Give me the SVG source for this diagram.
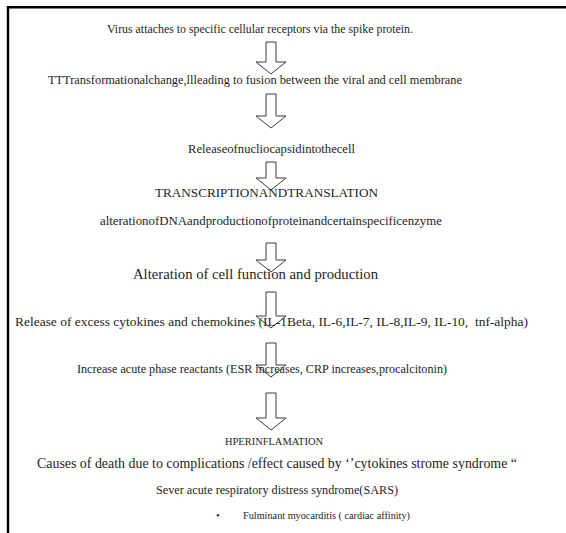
<svg xmlns="http://www.w3.org/2000/svg" width="566" height="533" viewBox="0 0 566 533">
<style>
.t{font-family:"Liberation Serif","Times New Roman",serif;font-size:12px;fill:#1e1e1e}
.a{fill:#fff;stroke:#3a3a3a;stroke-width:1;stroke-linejoin:miter}
</style>
<rect width="566" height="533" fill="#fff"/>
<path d="M8 533V7.2H566" fill="none" stroke="#000" stroke-width="2.4"/>
<g id="connectors">
<path class="a" d="M266 42H276V62H286L271 74L256 62H266Z"/>
<path class="a" d="M266 94H276V116H286L271 128L256 116H266Z"/>
<path class="a" d="M266 162H276V178H286L271 190L256 178H266Z"/>
<path class="a" d="M266 243H276V260H286L271 272L256 260H266Z"/>
<path class="a" d="M266 292H276V316H286L271 328L256 316H266Z"/>
<path class="a" d="M266 343H276V365H286L271 377L256 365H266Z"/>
<path class="a" d="M266 393H276V418H286L271 430L256 418H266Z"/>
</g>
<g id="n1"><text class="t" x="107" y="33" style="font-size:11.8px" textLength="306" lengthAdjust="spacingAndGlyphs">Virus attaches to specific cellular receptors via the spike protein.</text></g>
<g id="n2"><text class="t" x="48" y="84" style="font-size:12.3px" textLength="414" lengthAdjust="spacingAndGlyphs">TTTransformationalchange,llleading to fusion between the viral and cell membrane</text></g>
<g id="n3"><text class="t" x="188" y="153" style="font-size:12.5px" textLength="167" lengthAdjust="spacingAndGlyphs">Releaseofnucliocapsidintothecell</text></g>
<g id="n4"><text class="t" x="155" y="197" style="font-size:13px" textLength="223" lengthAdjust="spacingAndGlyphs">TRANSCRIPTIONANDTRANSLATION</text></g>
<g id="n5"><text class="t" x="100" y="225" style="font-size:12.7px" textLength="342" lengthAdjust="spacingAndGlyphs">alterationofDNAandproductionofproteinandcertainspecificenzyme</text></g>
<g id="n6"><text class="t" x="133" y="279" style="font-size:14.4px" textLength="245" lengthAdjust="spacingAndGlyphs">Alteration of cell function and production</text></g>
<g id="n7"><text class="t" x="15" y="326" style="font-size:13.4px" textLength="513" lengthAdjust="spacingAndGlyphs">Release of excess cytokines and chemokines (IL-1Beta, IL-6,IL-7, IL-8,IL-9, IL-10,&#160; tnf-alpha)</text></g>
<g id="n8"><text class="t" x="77" y="373" style="font-size:12.1px" textLength="370" lengthAdjust="spacingAndGlyphs">Increase acute phase reactants (ESR increases, CRP increases,procalcitonin)</text></g>
<g id="n9"><text class="t" x="225" y="445" style="font-size:10.5px" textLength="98" lengthAdjust="spacingAndGlyphs">HPERINFLAMATION</text></g>
<g id="n10"><text class="t" x="37" y="468" style="font-size:13.8px" textLength="480" lengthAdjust="spacingAndGlyphs">Causes of death due to complications /effect caused by ‘’cytokines strome syndrome “</text></g>
<g id="n11"><text class="t" x="156" y="494" style="font-size:12.2px" textLength="242" lengthAdjust="spacingAndGlyphs">Sever acute respiratory distress syndrome(SARS)</text></g>
<g id="n12"><text class="t" x="216" y="519" style="font-size:11px">•</text><text class="t" x="243" y="519" style="font-size:10.3px" textLength="167" lengthAdjust="spacingAndGlyphs">Fulminant myocarditis ( cardiac affinity)</text></g>
</svg>
